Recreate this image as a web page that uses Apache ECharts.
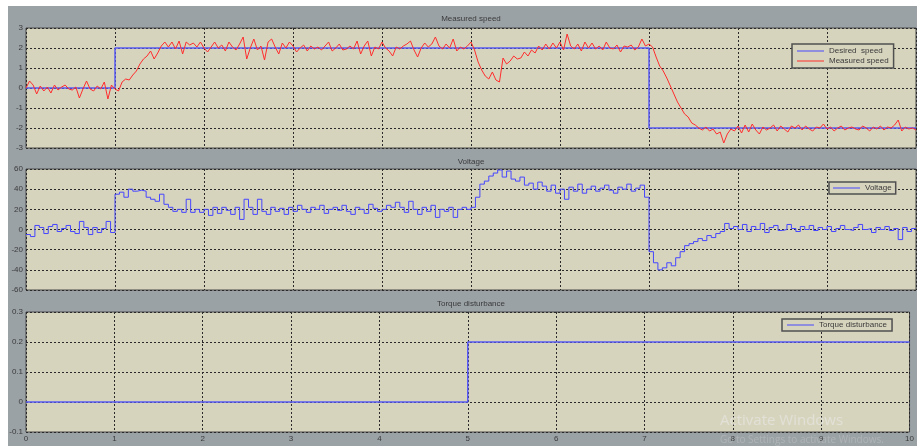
<!DOCTYPE html>
<html>
<head>
<meta charset="utf-8">
<script src="https://cdn.jsdelivr.net/npm/echarts@6/dist/echarts.min.js"></script>
<style>
  html, body { margin: 0; padding: 0; background: #ffffff; }
  #chart { width: 917px; height: 446px; }
</style>
</head>
<body>
<div id="chart"></div>
<script>
// Simulation time axis (seconds)
const xTicks = [0, 1, 2, 3, 4, 5, 6, 7, 8, 9, 10];

// Speed reference: piecewise constant, held until the next change
const desiredTimes = [0, 1, 7, 10];
const desiredSpeed = [0, 2, -2, -2];

// Measured speed, sampled every 0.04 s from t = 0 to t = 10
const speedStep = 0.04;
const measuredSpeed = [
  0.0, 0.35, 0.15, -0.3, 0.1, -0.15, 0.05, -0.25, 0.15, -0.1,
  0.05, 0.15, -0.05, -0.1, 0.05, -0.5, -0.05, 0.35, -0.05, -0.15,
  0.1, -0.05, 0.3, -0.55, 0.15, -0.05, -0.15, 0.3, 0.45, 0.4,
  0.65, 0.85, 1.2, 1.45, 1.6, 1.85, 1.45, 1.75, 2.1, 2.3,
  2.05, 2.3, 1.95, 2.35, 1.7, 2.3, 2.15, 2.25, 2.05, 2.3,
  2.0, 1.8, 2.05, 2.3, 2.0, 2.15, 1.85, 2.3, 2.05, 1.9,
  2.2, 2.55, 1.45, 2.0, 2.45, 1.9, 2.1, 1.4, 2.3, 2.45,
  2.05, 1.7, 2.25, 2.0, 2.3, 2.1, 1.8, 2.0, 2.15, 1.85,
  2.1, 1.95, 2.05, 1.9, 2.1, 2.3, 1.85, 2.0, 2.2, 1.9,
  1.95, 2.1, 1.95, 2.35, 1.7, 2.1, 2.35, 1.6, 2.05, 1.95,
  2.3, 2.0, 1.85, 1.6, 2.05, 1.95, 2.1, 2.2, 2.35, 1.9,
  1.55, 2.0, 2.25, 2.05, 2.2, 2.55, 2.1, 1.95, 2.2, 2.0,
  2.45, 1.85, 2.05, 1.95, 2.1, 2.3, 1.9, 1.3, 0.9, 0.6,
  0.45, 0.8, 0.4, 0.3, 1.5, 1.2, 1.35, 1.6, 1.45, 1.5,
  1.8, 1.6, 1.9, 1.75, 2.1, 1.9, 2.2, 1.95, 2.25, 2.0,
  2.3, 1.9, 2.7, 2.1, 1.95, 2.2, 1.85, 2.3, 2.0, 2.25,
  1.95, 2.1, 1.9, 2.3, 2.0, 1.95, 2.15, 1.8, 2.1, 2.05,
  2.15, 1.9, 2.05, 2.45, 2.1, 2.2, 2.05, 1.55, 1.1, 0.85,
  0.5, 0.1, -0.3, -0.7, -1.0, -1.3, -1.45, -1.75, -1.85, -2.0,
  -2.1, -1.95, -2.15, -2.05, -2.3, -2.2, -2.75, -2.3, -2.05, -2.15,
  -1.9, -2.25, -1.85, -2.2, -1.8, -2.1, -2.3, -1.95, -2.1, -2.0,
  -1.85, -2.15, -1.9, -2.05, -2.2, -1.9, -2.0, -1.85, -2.1, -1.9,
  -2.05, -2.15, -1.95, -2.0, -1.8, -2.05, -1.95, -2.15, -2.0, -1.9,
  -2.1, -2.0, -1.95, -2.05, -2.1, -1.9, -2.0, -2.15, -1.95, -2.05,
  -1.9, -2.1, -1.95, -2.0, -1.85, -1.6, -2.15, -1.95, -2.05, -2.0,
  -2.1
];

// Controller voltage, zero-order hold every 0.05 s
const voltageStep = 0.05;
const voltage = [
  -5, -7, 4, 2, -4, 3, 5, -2, 1, 4,
  -2, -4, 8, 2, -5, 2, -3, 1, 8, -3,
  35, 37, 32, 40, 38, 39, 38, 32, 30, 28,
  35, 25, 22, 18, 20, 17, 30, 17, 20, 17,
  20, 14, 22, 16, 22, 19, 15, 22, 10, 30,
  22, 15, 30, 18, 15, 22, 18, 21, 15, 22,
  18, 24, 20, 17, 22, 20, 24, 16, 20, 22,
  19, 24, 18, 15, 22, 20, 16, 25, 21, 18,
  20, 24, 22, 27, 22, 17, 28, 20, 15, 22,
  18, 24, 12, 20, 18, 22, 12, 20, 22, 20,
  22, 32, 45, 48, 53, 56, 59, 52, 58, 50,
  48, 52, 44, 46, 40, 47, 43, 38, 44, 36,
  40, 30, 42, 38, 45, 36, 40, 43, 38, 41,
  44, 39, 36, 42, 40, 45, 38, 41, 44, 32,
  -22, -33, -40, -38, -33, -36, -28, -22, -16, -14,
  -12, -9, -11, -6, -8, -4, -2, 6, 1, 3,
  0, 5, -2, 3, 0, 6, -3, 2, 4, -1,
  0, 5, 1, -2, 3, 0, 4, -1, 2, 0,
  3, -2, 1, 4, 0, -1, 2, 5, 0, 1,
  -3, 2, 0, 3, -1, 1, -10, 2, -2, 1
];

// Load torque disturbance step
const torqueTimes = [0, 5, 10];
const torqueValues = [0, 0.2, 0.2];

const panelTitles = ['Measured speed', 'Voltage', 'Torque disturbance'];

const pairs = (ts, vs) => ts.map((t, i) => [t, vs[i]]);
const sampled = (vs, dt) => vs.map((v, i) => [+(i * dt).toFixed(4), v]);

const voltagePts = sampled(voltage, voltageStep);
voltagePts.push([10, voltage[voltage.length - 1]]);

const PLOT_BG = '#d7d4be';
const FRAME = '#9ba2a5';
const TXT = '#3a3a3a';
const BLUE = '#4646ff';
const RED = '#ff2d2d';
const labelFont = { fontFamily: 'Liberation Sans, Arial, sans-serif', fontSize: 8, color: TXT };

const grids = [
  { left: 26, top: 28, width: 890, height: 120 },
  { left: 26, top: 169, width: 890, height: 121 },
  { left: 26, top: 312, width: 890, height: 120 }
].map(g => Object.assign(g, {
  show: true, backgroundColor: PLOT_BG, borderColor: '#4a4a4a', borderWidth: 1, containLabel: false
}));

const gridLine = { show: true, lineStyle: { color: '#2a2a2a', width: 1, type: [2, 2] } };

const xAxes = [0, 1, 2].map(i => ({
  type: 'value', gridIndex: i, min: 0, max: 10, interval: 1,
  axisLine: { show: false }, axisTick: { show: false },
  splitLine: gridLine,
  axisLabel: i === 2 ? Object.assign({ show: true, margin: 3 }, labelFont) : { show: false }
}));

const yRanges = [
  { min: -3, max: 3, interval: 1 },
  { min: -60, max: 60, interval: 20 },
  { min: -0.1, max: 0.3, interval: 0.1 }
];
const yAxes = yRanges.map((r, i) => ({
  type: 'value', gridIndex: i, min: r.min, max: r.max, interval: r.interval,
  axisLine: { show: false }, axisTick: { show: false },
  splitLine: gridLine,
  axisLabel: Object.assign({ margin: 3, formatter: v => String(+v.toFixed(2)) }, labelFont)
}));

const legendBase = {
  orient: 'vertical', itemWidth: 27, itemHeight: 8, itemGap: 2,
  padding: [3, 5, 3, 5], borderColor: '#505050', borderWidth: 1.5,
  backgroundColor: PLOT_BG, textStyle: labelFont, selectedMode: false, icon: 'path://M0,4 L27,4 L27,5 L0,5 Z'
};

const option = {
  animation: false,
  backgroundColor: FRAME,
  grid: grids,
  xAxis: xAxes,
  yAxis: yAxes,
  legend: [
    Object.assign({ data: ['Desired  speed', 'Measured speed'], left: 792, top: 44 }, legendBase),
    Object.assign({ data: ['Voltage'], left: 829, top: 182 }, legendBase, { padding: [2, 4, 2, 4] }),
    Object.assign({ data: ['Torque disturbance'], left: 782, top: 319 }, legendBase, { padding: [2, 5, 2, 5] })
  ],
  series: [
    {
      name: 'Desired  speed', type: 'line', xAxisIndex: 0, yAxisIndex: 0, step: 'end',
      data: pairs(desiredTimes, desiredSpeed), symbol: 'none',
      color: BLUE, lineStyle: { width: 1.5, color: '#5a5af5' }, z: 2
    },
    {
      name: 'Measured speed', type: 'line', xAxisIndex: 0, yAxisIndex: 0,
      data: sampled(measuredSpeed, speedStep), symbol: 'none',
      color: RED, lineStyle: { width: 1, color: RED }, z: 3
    },
    {
      name: 'Voltage', type: 'line', xAxisIndex: 1, yAxisIndex: 1, step: 'end',
      data: voltagePts, symbol: 'none',
      color: BLUE, lineStyle: { width: 1, color: BLUE }
    },
    {
      name: 'Torque disturbance', type: 'line', xAxisIndex: 2, yAxisIndex: 2, step: 'end',
      data: pairs(torqueTimes, torqueValues), symbol: 'none',
      color: BLUE, lineStyle: { width: 1.5, color: '#5a5af5' }
    }
  ],
  graphic: [
    // white window edge on the top and left
    { type: 'rect', shape: { x: 0, y: 0, width: 917, height: 6 }, style: { fill: '#ffffff' }, z: 100 },
    { type: 'rect', shape: { x: 0, y: 0, width: 8, height: 446 }, style: { fill: '#ffffff' }, z: 100 },
    ...panelTitles.map((t, i) => ({
      type: 'text', x: 471, y: [19, 162, 304][i],
      style: { text: t, fill: TXT, font: '8px "Liberation Sans", Arial, sans-serif', textAlign: 'center', textVerticalAlign: 'middle' },
      z: 50
    })),
    {
      type: 'text', x: 720, y: 421,
      style: { text: 'Activate Windows', fill: 'rgba(235,235,235,0.55)', font: '15px "Open Sans", "Noto Sans", sans-serif', textVerticalAlign: 'middle' },
      z: 60
    },
    {
      type: 'text', x: 720, y: 440,
      style: { text: 'Go to Settings to activate Windows.', fill: 'rgba(235,235,235,0.25)', font: '10px "Open Sans", "Noto Sans", sans-serif', textVerticalAlign: 'middle' },
      z: 60
    }
  ]
};

const chart = echarts.init(document.getElementById('chart'), null, { renderer: 'canvas' });
chart.setOption(option);
</script>
</body>
</html>
